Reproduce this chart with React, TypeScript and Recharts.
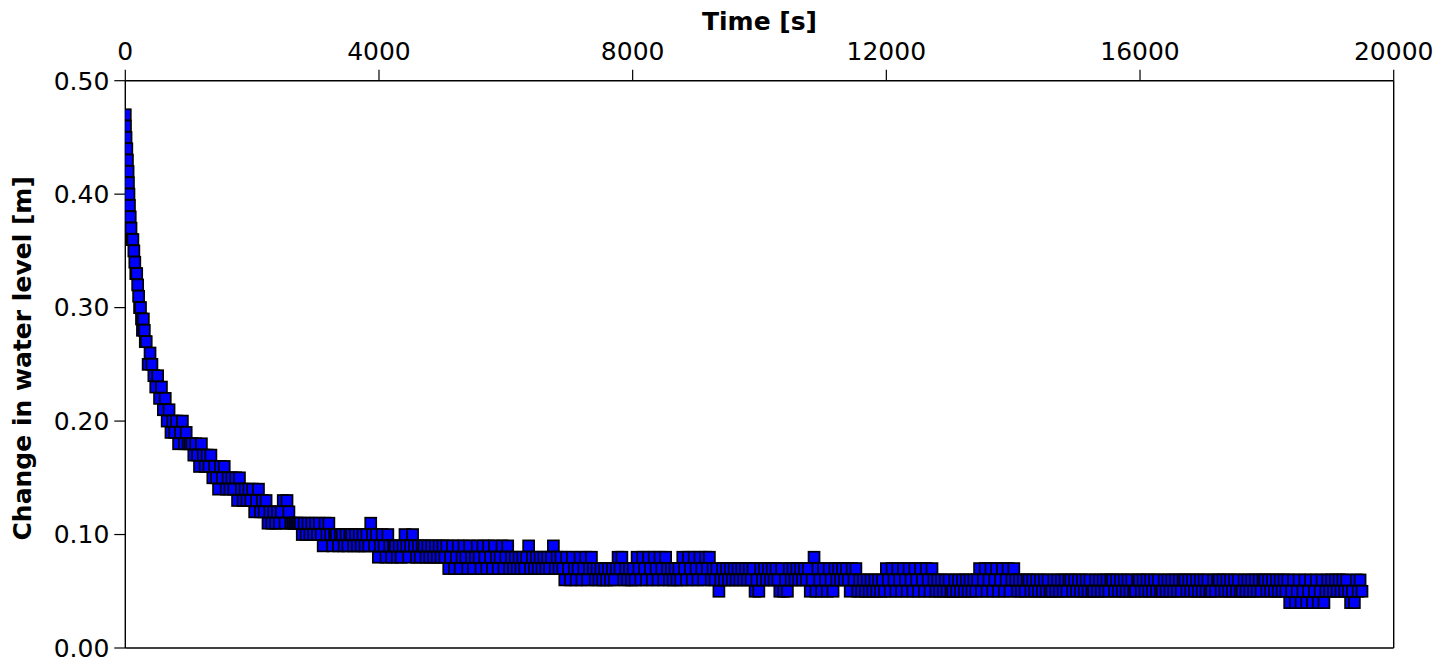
import React from 'react';
import { ScatterChart, Scatter, XAxis, YAxis, ReferenceLine } from 'recharts';

const FONT = 'DejaVu Sans';

const xTicks = [0, 4000, 8000, 12000, 16000, 20000];
const yTicks = [0, 0.1, 0.2, 0.3, 0.4, 0.5];

// first minutes (dense logging)
const earlyTime = [0, 3, 12, 24, 34, 44, 50, 58, 66, 78, 90, 104, 120, 135, 150, 165, 180, 195, 210, 225, 240, 255, 270, 285, 300, 315];
const earlyLevel = [0.47, 0.46, 0.45, 0.44, 0.43, 0.42, 0.41, 0.40, 0.39, 0.38, 0.37, 0.36, 0.36, 0.35, 0.34, 0.33, 0.33, 0.32, 0.31, 0.30, 0.30, 0.29, 0.28, 0.29, 0.28, 0.27];

// decline phase
const declineTime = [
  330, 360, 390, 420, 450, 480, 510, 540, 570, 600,
  630, 660, 690, 720, 750, 780, 810, 840, 870, 900,
  930, 960, 990, 1020, 1050, 1080, 1110, 1140, 1170, 1200,
  1230, 1260, 1290, 1320, 1350, 1380, 1410, 1440, 1470, 1500,
  1530, 1560, 1590, 1620, 1650, 1680, 1710, 1740, 1770, 1800,
  1830, 1860, 1890, 1920, 1950, 1980, 2010, 2040, 2070, 2100,
  2130, 2160, 2190, 2220, 2250, 2280, 2310, 2340, 2370, 2400,
  2430, 2460, 2490, 2520, 2550, 2580, 2610, 2640, 2670, 2700,
];
const declineLevel = [
  0.27, 0.25, 0.26, 0.25, 0.24, 0.23, 0.24, 0.22, 0.23, 0.21,
  0.22, 0.20, 0.21, 0.19, 0.20, 0.19, 0.20, 0.18, 0.19, 0.20,
  0.18, 0.19, 0.18, 0.18, 0.18, 0.17, 0.18, 0.17, 0.16, 0.18,
  0.17, 0.16, 0.17, 0.16, 0.17, 0.15, 0.16, 0.15, 0.14, 0.16,
  0.15, 0.16, 0.14, 0.15, 0.14, 0.15, 0.14, 0.15, 0.13, 0.15,
  0.14, 0.13, 0.14, 0.13, 0.14, 0.13, 0.14, 0.12, 0.13, 0.14,
  0.12, 0.13, 0.12, 0.13, 0.11, 0.12, 0.11, 0.12, 0.11, 0.12,
  0.11, 0.12, 0.13, 0.11, 0.13, 0.12, 0.11, 0.11, 0.11, 0.11,
];

// middle phase
const midTime = [
  2730, 2760, 2790, 2820, 2850, 2880, 2910, 2940, 2970, 3000,
  3030, 3060, 3090, 3120, 3150, 3180, 3210, 3240, 3270, 3300,
  3330, 3360, 3390, 3420, 3450, 3480, 3510, 3540, 3570, 3600,
  3630, 3660, 3690, 3720, 3750, 3780, 3810, 3840, 3870, 3900,
  3930, 3960, 3990, 4020, 4050, 4080, 4110, 4140, 4170, 4200,
  4230, 4260, 4290, 4320, 4350, 4380, 4410, 4440, 4470, 4500,
  4530, 4560, 4590, 4620, 4650, 4680, 4710, 4740, 4770, 4800,
  4830, 4860, 4890, 4920, 4950, 4980, 5010, 5040, 5070, 5100,
  5130, 5160, 5190, 5220, 5250, 5280, 5310, 5340, 5370, 5400,
  5430, 5460, 5490, 5520, 5550, 5580, 5610, 5640, 5670, 5700,
  5730, 5760, 5790, 5820, 5850, 5880, 5910, 5940, 5970, 6000,
  6030, 6060, 6090, 6120, 6150, 6180, 6210, 6240, 6270, 6300,
  6330, 6360, 6390, 6420, 6450, 6480, 6510, 6540, 6570, 6600,
  6630, 6660, 6690, 6720, 6750, 6780, 6810, 6840, 6870, 6900,
  6930, 6960, 6990, 7020, 7050, 7080, 7110, 7140, 7170, 7200,
  7230, 7260, 7290, 7320, 7350, 7380, 7410, 7440, 7470, 7500,
  7530, 7560, 7590, 7620, 7650, 7680, 7710, 7740, 7770, 7800,
  7830, 7860, 7890, 7920, 7950, 7980, 8010, 8040, 8070, 8100,
  8130, 8160, 8190, 8220, 8250, 8280, 8310, 8340, 8370, 8400,
  8430, 8460, 8490, 8520, 8550, 8580, 8610, 8640, 8670, 8700,
  8730, 8760, 8790, 8820, 8850, 8880, 8910, 8940, 8970, 9000,
];
const midLevel = [
  0.11, 0.11, 0.10, 0.11, 0.10, 0.11, 0.10, 0.11, 0.10, 0.11,
  0.10, 0.11, 0.10, 0.09, 0.11, 0.10, 0.11, 0.10, 0.09, 0.10,
  0.10, 0.09, 0.10, 0.10, 0.09, 0.10, 0.09, 0.10, 0.10, 0.09,
  0.10, 0.09, 0.10, 0.09, 0.10, 0.09, 0.10, 0.09, 0.11, 0.10,
  0.09, 0.10, 0.08, 0.09, 0.10, 0.09, 0.08, 0.10, 0.09, 0.08,
  0.09, 0.09, 0.08, 0.09, 0.08, 0.09, 0.10, 0.09, 0.08, 0.09,
  0.10, 0.09, 0.08, 0.09, 0.08, 0.09, 0.09, 0.08, 0.09, 0.08,
  0.09, 0.08, 0.09, 0.08, 0.09, 0.08, 0.09, 0.08, 0.09, 0.07,
  0.08, 0.09, 0.07, 0.08, 0.09, 0.07, 0.08, 0.09, 0.08, 0.07,
  0.09, 0.08, 0.07, 0.08, 0.09, 0.08, 0.07, 0.09, 0.08, 0.07,
  0.09, 0.08, 0.07, 0.09, 0.08, 0.07, 0.08, 0.09, 0.07, 0.08,
  0.09, 0.07, 0.08, 0.07, 0.08, 0.07, 0.08, 0.07, 0.08, 0.07,
  0.08, 0.09, 0.07, 0.08, 0.07, 0.08, 0.07, 0.08, 0.07, 0.08,
  0.07, 0.08, 0.07, 0.08, 0.09, 0.07, 0.08, 0.07, 0.08, 0.07,
  0.06, 0.08, 0.07, 0.06, 0.08, 0.07, 0.06, 0.07, 0.08, 0.06,
  0.07, 0.08, 0.06, 0.07, 0.08, 0.07, 0.06, 0.07, 0.06, 0.07,
  0.06, 0.07, 0.06, 0.07, 0.06, 0.07, 0.06, 0.07, 0.08, 0.07,
  0.08, 0.06, 0.07, 0.06, 0.07, 0.06, 0.07, 0.06, 0.08, 0.07,
  0.06, 0.08, 0.07, 0.06, 0.08, 0.07, 0.06, 0.08, 0.07, 0.06,
  0.08, 0.07, 0.06, 0.08, 0.07, 0.06, 0.07, 0.06, 0.07, 0.06,
  0.07, 0.06, 0.08, 0.07, 0.06, 0.08, 0.07, 0.06, 0.08, 0.07,
];

// tail, part 1
const tailTime = [
  9030, 9060, 9090, 9120, 9150, 9180, 9210, 9240, 9270, 9300,
  9330, 9360, 9390, 9420, 9450, 9480, 9510, 9540, 9570, 9600,
  9630, 9660, 9690, 9720, 9750, 9780, 9810, 9840, 9870, 9900,
  9930, 9960, 9990, 10020, 10050, 10080, 10110, 10140, 10170, 10200,
  10230, 10260, 10290, 10320, 10350, 10380, 10410, 10440, 10470, 10500,
  10530, 10560, 10590, 10620, 10650, 10680, 10710, 10740, 10770, 10800,
  10830, 10860, 10890, 10920, 10950, 10980, 11010, 11040, 11070, 11100,
  11130, 11160, 11190, 11220, 11250, 11280, 11310, 11340, 11370, 11400,
  11430, 11460, 11490, 11520, 11550, 11580, 11610, 11640, 11670, 11700,
  11730, 11760, 11790, 11820, 11850, 11880, 11910, 11940, 11970, 12000,
  12030, 12060, 12090, 12120, 12150, 12180, 12210, 12240, 12270, 12300,
  12330, 12360, 12390, 12420, 12450, 12480, 12510, 12540, 12570, 12600,
  12630, 12660, 12690, 12720, 12750, 12780, 12810, 12840, 12870, 12900,
  12930, 12960, 12990, 13020, 13050, 13080, 13110, 13140, 13170, 13200,
  13230, 13260, 13290, 13320, 13350, 13380, 13410, 13440, 13470, 13500,
  13530, 13560, 13590, 13620, 13650, 13680, 13710, 13740, 13770, 13800,
  13830, 13860, 13890, 13920, 13950, 13980, 14010, 14040, 14070, 14100,
];
const tailLevel = [
  0.06, 0.08, 0.07, 0.06, 0.08, 0.07, 0.08, 0.06, 0.07, 0.06,
  0.07, 0.05, 0.06, 0.07, 0.06, 0.07, 0.06, 0.07, 0.06, 0.07,
  0.06, 0.07, 0.06, 0.07, 0.06, 0.07, 0.06, 0.07, 0.06, 0.07,
  0.05, 0.06, 0.05, 0.07, 0.06, 0.07, 0.06, 0.07, 0.06, 0.07,
  0.06, 0.07, 0.06, 0.05, 0.07, 0.05, 0.06, 0.05, 0.07, 0.06,
  0.07, 0.06, 0.07, 0.06, 0.07, 0.06, 0.07, 0.06, 0.07, 0.05,
  0.06, 0.08, 0.05, 0.07, 0.06, 0.05, 0.07, 0.06, 0.05, 0.07,
  0.06, 0.05, 0.07, 0.06, 0.07, 0.06, 0.07, 0.06, 0.07, 0.06,
  0.05, 0.07, 0.06, 0.07, 0.05, 0.06, 0.05, 0.06, 0.05, 0.06,
  0.05, 0.06, 0.05, 0.06, 0.05, 0.06, 0.05, 0.06, 0.05, 0.07,
  0.06, 0.05, 0.07, 0.06, 0.05, 0.07, 0.06, 0.05, 0.07, 0.06,
  0.05, 0.07, 0.06, 0.05, 0.07, 0.06, 0.05, 0.07, 0.06, 0.05,
  0.07, 0.06, 0.05, 0.07, 0.06, 0.05, 0.06, 0.05, 0.06, 0.05,
  0.06, 0.05, 0.06, 0.05, 0.05, 0.06, 0.05, 0.06, 0.05, 0.06,
  0.05, 0.06, 0.05, 0.06, 0.05, 0.06, 0.05, 0.06, 0.07, 0.05,
  0.06, 0.07, 0.05, 0.06, 0.07, 0.05, 0.06, 0.07, 0.05, 0.06,
  0.07, 0.05, 0.06, 0.07, 0.05, 0.06, 0.07, 0.06, 0.05, 0.06,
];

// tail, part 2
const lateTime = [
  14130, 14160, 14190, 14220, 14250, 14280, 14310, 14340, 14370, 14400,
  14430, 14460, 14490, 14520, 14550, 14580, 14610, 14640, 14670, 14700,
  14730, 14760, 14790, 14820, 14850, 14880, 14910, 14940, 14970, 15000,
  15030, 15060, 15090, 15120, 15150, 15180, 15210, 15240, 15270, 15300,
  15330, 15360, 15390, 15420, 15450, 15480, 15510, 15540, 15570, 15600,
  15630, 15660, 15690, 15720, 15750, 15780, 15810, 15840, 15870, 15900,
  15930, 15960, 15990, 16020, 16050, 16080, 16110, 16140, 16170, 16200,
  16230, 16260, 16290, 16320, 16350, 16380, 16410, 16440, 16470, 16500,
  16530, 16560, 16590, 16620, 16650, 16680, 16710, 16740, 16770, 16800,
  16830, 16860, 16890, 16920, 16950, 16980, 17010, 17040, 17070, 17100,
  17130, 17160, 17190, 17220, 17250, 17280, 17310, 17340, 17370, 17400,
  17430, 17460, 17490, 17520, 17550, 17580, 17610, 17640, 17670, 17700,
  17730, 17760, 17790, 17820, 17850, 17880, 17910, 17940, 17970, 18000,
  18030, 18060, 18090, 18120, 18150, 18180, 18210, 18240, 18270, 18300,
  18330, 18360, 18390, 18420, 18450, 18480, 18510, 18540, 18570, 18600,
  18630, 18660, 18690, 18720, 18750, 18780, 18810, 18840, 18870, 18900,
  18930, 18960, 18990, 19020, 19050, 19080, 19110, 19140, 19170, 19200,
  19230, 19260, 19290, 19320, 19350, 19380, 19410, 19440, 19470, 19500,
];
const lateLevel = [
  0.05, 0.06, 0.05, 0.06, 0.06, 0.05, 0.06, 0.05, 0.06, 0.05,
  0.06, 0.05, 0.06, 0.05, 0.06, 0.05, 0.05, 0.06, 0.05, 0.06,
  0.05, 0.06, 0.05, 0.06, 0.05, 0.06, 0.06, 0.05, 0.06, 0.05,
  0.06, 0.05, 0.06, 0.05, 0.06, 0.05, 0.06, 0.05, 0.05, 0.06,
  0.05, 0.06, 0.05, 0.06, 0.05, 0.06, 0.05, 0.06, 0.06, 0.05,
  0.06, 0.05, 0.06, 0.05, 0.06, 0.05, 0.06, 0.05, 0.06, 0.05,
  0.05, 0.06, 0.06, 0.05, 0.06, 0.05, 0.06, 0.05, 0.06, 0.05,
  0.06, 0.05, 0.06, 0.05, 0.05, 0.06, 0.05, 0.06, 0.05, 0.06,
  0.05, 0.06, 0.05, 0.06, 0.05, 0.06, 0.06, 0.05, 0.06, 0.05,
  0.06, 0.05, 0.06, 0.05, 0.06, 0.05, 0.06, 0.05, 0.06, 0.05,
  0.05, 0.06, 0.05, 0.06, 0.06, 0.05, 0.06, 0.05, 0.06, 0.05,
  0.06, 0.05, 0.06, 0.05, 0.06, 0.05, 0.05, 0.06, 0.05, 0.06,
  0.05, 0.06, 0.05, 0.06, 0.05, 0.06, 0.05, 0.06, 0.06, 0.05,
  0.06, 0.05, 0.06, 0.05, 0.06, 0.05, 0.06, 0.05, 0.06, 0.05,
  0.06, 0.04, 0.05, 0.06, 0.04, 0.05, 0.06, 0.04, 0.05, 0.06,
  0.04, 0.05, 0.06, 0.04, 0.05, 0.06, 0.04, 0.05, 0.06, 0.04,
  0.05, 0.06, 0.05, 0.06, 0.05, 0.06, 0.05, 0.06, 0.05, 0.06,
  0.05, 0.06, 0.05, 0.04, 0.05, 0.04, 0.06, 0.05, 0.06, 0.05,
];

const toPoints = (times: number[], levels: number[]) =>
  times.map((t, i) => ({ t, h: levels[i] }));

const points = [
  ...toPoints(earlyTime, earlyLevel),
  ...toPoints(declineTime, declineLevel),
  ...toPoints(midTime, midLevel),
  ...toPoints(tailTime, tailLevel),
  ...toPoints(lateTime, lateLevel),
];

const SquareDot = (props: any) => {
  const { cx, cy } = props;
  if (cx == null || cy == null) return null;
  return (
    <rect
      x={cx - 5.5}
      y={cy - 5.5}
      width={11}
      height={11}
      fill="#0000ff"
      stroke="#000000"
      strokeWidth={1.7}
    />
  );
};

const XTitle = (props: any) => {
  const vb = props.viewBox || { x: 125.3, y: 40.7, width: 1268.4, height: 40 };
  return (
    <text
      x={vb.x + vb.width / 2}
      y={vb.y - 10.7}
      textAnchor="middle"
      fontFamily={FONT}
      fontWeight="bold"
      fontSize={25}
      fill="#000"
    >
      Time [s]
    </text>
  );
};

const YTitle = (props: any) => {
  const vb = props.viewBox || { x: 40.3, y: 80.7, width: 85, height: 567.3 };
  const cx = 31;
  const cy = vb.y + vb.height / 2 - 6;
  return (
    <text
      x={cx}
      y={cy}
      transform={`rotate(-90 ${cx} ${cy})`}
      textAnchor="middle"
      fontFamily={FONT}
      fontWeight="bold"
      fontSize={25}
      fill="#000"
    >
      Change in water level [m]
    </text>
  );
};

const tickStyle = { fill: '#000', fontSize: 25, fontFamily: FONT };

export default function App() {
  return (
    <div style={{ position: 'absolute', left: 0, top: 0, background: '#fff' }}>
      <ScatterChart
        width={1453}
        height={664}
        margin={{ top: 40.7, right: 59.3, bottom: 16, left: 40.3 }}
      >
        <XAxis
          type="number"
          dataKey="t"
          orientation="top"
          domain={[0, 20000]}
          ticks={xTicks}
          allowDataOverflow
          height={40}
          tickSize={11}
          tickMargin={9.7}
          axisLine={{ stroke: '#000', strokeWidth: 1.4 }}
          tickLine={{ stroke: '#000', strokeWidth: 1.2 }}
          tick={tickStyle}
          interval={0}
          label={<XTitle />}
        />
        <YAxis
          type="number"
          dataKey="h"
          domain={[0, 0.5]}
          ticks={yTicks}
          allowDataOverflow
          width={85}
          tickSize={11}
          tickMargin={5}
          tickFormatter={(v: number) => v.toFixed(2)}
          axisLine={{ stroke: '#000', strokeWidth: 1.4 }}
          tickLine={{ stroke: '#000', strokeWidth: 1.2 }}
          tick={tickStyle}
          interval={0}
          label={<YTitle />}
        />
        <ReferenceLine x={20000} stroke="#000" strokeWidth={1.4} />
        <ReferenceLine y={0} stroke="#000" strokeWidth={1.4} />
        <Scatter data={points} shape={SquareDot} isAnimationActive={false} />
      </ScatterChart>
    </div>
  );
}
